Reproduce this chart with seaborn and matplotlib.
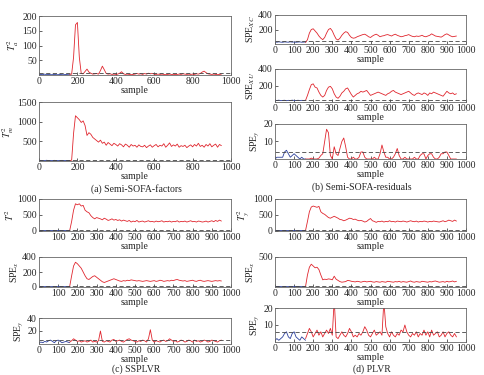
import matplotlib
matplotlib.use("Agg")
import matplotlib.pyplot as plt
import numpy as np
import pandas as pd
import seaborn as sns

# data: normal part (blue, samples 0..160) and fault part (red, from 160), read every 10 samples
a1_blue = [1, 2, 1, 3, 1, 2, 1, 1, 2, 1, 1, 2, 1, 1, 2, 1, 1]
a1_red = [2, 3, 60, 170, 178, 60, 5, 4, 12, 20, 10, 6, 3, 4, 5, 3, 15, 30, 18, 5,
          3, 4, 2, 3, 2, 3, 6, 11, 4, 2, 3, 2, 1, 2, 3, 5, 3, 4, 2, 5,
          3, 6, 4, 5, 3, 2, 3, 2, 3, 2, 1, 2, 3, 2, 1, 2, 2, 3, 2, 4,
          3, 2, 3, 2, 3, 2, 4, 3, 5, 10, 13, 8, 4, 3, 2, 3, 2, 1, 2, 3]
a2_blue = [10, 15, 8, 12, 18, 9, 14, 11, 16, 10, 13, 9, 15, 12, 10, 14, 12]
a2_red = [10, 20, 700, 1150, 1100, 1050, 980, 1020, 900, 650, 720, 680, 600, 560, 520, 480, 530, 450, 480, 400,
          470, 430, 390, 450, 420, 380, 440, 410, 360, 430, 400, 350, 420, 380, 400, 350, 410, 370, 360, 400,
          340, 380, 410, 350, 390, 420, 360, 400, 380, 440, 350, 400, 460, 370, 410, 380, 430, 350, 390, 370,
          400, 340, 380, 410, 360, 420, 380, 450, 370, 400, 350, 420, 380, 440, 360, 400, 430, 350, 420, 390]
b1_blue = [28, 25, 30, 26, 24, 29, 27, 25, 30, 26, 28, 24, 27, 29, 25, 26, 28]
b1_red = [20, 60, 150, 200, 210, 180, 150, 110, 80, 60, 90, 150, 200, 215, 180, 120, 70, 55, 80, 120,
          150, 170, 160, 120, 90, 80, 85, 100, 110, 120, 130, 135, 120, 100, 90, 110, 125, 135, 120, 100,
          110, 115, 125, 130, 120, 110, 125, 135, 120, 110, 100, 105, 115, 120, 130, 115, 105, 100, 110, 105,
          110, 120, 105, 100, 110, 120, 140, 125, 110, 105, 100, 95, 110, 130, 140, 125, 110, 100, 105, 110]
b2_blue = [20, 18, 22, 17, 19, 21, 16, 20, 18, 22, 19, 17, 21, 18, 20, 19, 20]
b2_red = [20, 80, 150, 210, 220, 180, 170, 120, 80, 60, 80, 140, 180, 190, 160, 100, 60, 45, 70, 110,
          130, 160, 170, 130, 90, 60, 80, 100, 110, 130, 120, 130, 140, 110, 80, 90, 100, 110, 120, 110,
          100, 90, 80, 100, 110, 130, 140, 120, 110, 100, 90, 100, 110, 120, 130, 110, 90, 80, 100, 110,
          100, 90, 110, 100, 80, 110, 100, 120, 110, 100, 90, 80, 70, 100, 130, 110, 100, 110, 90, 100]
b3_blue = [0, 1, 1, 1, 1, 4, 5, 3, 1, 2, 3, 2, 1, 0, 1, 0, 0]
b3_red = [0, 0, 0, 0.5, 0, 0, 0, 0.5, 2, 3, 10, 17, 15, 2, 0, 7, 3, 2, 6, 10,
          12, 7, 1, 0, 0, 1, 0, 0, 1, 4, 4, 1, 0, 0, 0, 0, 1, 0, 0, 3,
          8, 4, 1, 1, 0, 0, 1, 3, 6, 2, 0, 0, 1, 0, 0, 0, 0, 1, 0, 0,
          2, 3, 3, 0, 2, 3, 3, 1, 0, 0, 1, 3, 3, 4, 4, 2, 0, 0, 0, 0]
c1_blue = [12, 15, 10, 14, 18, 11, 13, 16, 12, 10, 15, 13, 11, 14, 12, 16, 13]
c1_red = [20, 300, 650, 850, 820, 850, 780, 800, 650, 600, 570, 480, 420, 380, 420, 400, 380, 350, 400, 370,
          330, 350, 380, 340, 360, 330, 350, 310, 340, 320, 300, 330, 280, 310, 290, 330, 280, 300, 310, 280,
          300, 320, 290, 300, 280, 310, 290, 300, 320, 280, 300, 290, 310, 280, 300, 290, 320, 280, 300, 290,
          310, 280, 300, 320, 290, 300, 280, 310, 300, 280, 290, 310, 280, 300, 320, 290, 330, 300, 340, 310]
c2_blue = [5, 6, 4, 5, 7, 5, 4, 6, 5, 4, 6, 5, 5, 4, 6, 5, 5]
c2_red = [10, 150, 280, 330, 310, 280, 250, 200, 150, 110, 100, 120, 140, 150, 130, 110, 90, 70, 60, 70,
          80, 90, 100, 110, 100, 90, 80, 75, 85, 80, 90, 85, 95, 90, 85, 80, 85, 80, 75, 80,
          85, 80, 75, 80, 85, 75, 80, 90, 85, 75, 80, 85, 80, 90, 85, 95, 100, 90, 85, 80,
          85, 75, 80, 85, 90, 80, 75, 85, 90, 80, 75, 80, 85, 80, 75, 80, 85, 80, 85, 80]
c3_blue = [2, 3, 2, 4, 3, 5, 6, 4, 2, 5, 6, 4, 2, 3, 4, 3, 2]
c3_red = [3, 5, 8, 6, 4, 5, 3, 4, 5, 3, 4, 6, 3, 4, 3, 5, 20, 4, 3, 5,
          4, 3, 6, 7, 4, 5, 6, 4, 3, 5, 7, 8, 6, 5, 4, 3, 5, 4, 6, 5,
          3, 8, 22, 6, 3, 5, 4, 3, 5, 6, 4, 5, 8, 6, 4, 5, 3, 4, 6, 5,
          3, 4, 6, 5, 3, 6, 4, 5, 3, 4, 6, 5, 3, 4, 6, 5, 4, 3, 5, 6]
d1_blue = [15, 12, 18, 14, 11, 16, 13, 17, 12, 15, 14, 11, 16, 13, 15, 12, 14]
d1_red = [20, 300, 600, 750, 780, 760, 740, 770, 600, 550, 520, 470, 420, 400, 430, 460, 430, 400, 360, 350,
          320, 340, 370, 400, 390, 360, 370, 340, 320, 330, 310, 280, 300, 350, 390, 320, 300, 270, 300, 290,
          310, 280, 300, 290, 320, 290, 300, 280, 310, 300, 290, 310, 300, 280, 300, 320, 300, 290, 310, 280,
          300, 290, 310, 300, 280, 300, 290, 310, 300, 290, 280, 300, 320, 290, 310, 340, 320, 300, 340, 310]
d2_blue = [8, 6, 9, 7, 5, 8, 6, 7, 9, 6, 8, 7, 5, 8, 6, 7, 8]
d2_red = [10, 200, 330, 380, 350, 320, 330, 290, 200, 120, 130, 125, 135, 130, 120, 180, 130, 110, 90, 80,
          85, 90, 110, 105, 95, 90, 85, 95, 90, 80, 90, 95, 85, 90, 95, 85, 80, 90, 85, 80,
          90, 85, 80, 95, 90, 85, 80, 90, 85, 95, 80, 90, 85, 80, 90, 100, 85, 80, 90, 85,
          80, 95, 90, 85, 80, 90, 85, 95, 100, 90, 80, 85, 90, 80, 95, 85, 90, 100, 85, 95]
d3_blue = [1, 2, 1, 2, 3, 5, 6, 3, 2, 5, 6, 3, 2, 1, 3, 2, 1]
d3_red = [2, 5, 8, 6, 3, 5, 7, 4, 6, 3, 5, 7, 5, 8, 4, 25, 3, 2, 4, 6,
          4, 3, 5, 8, 6, 3, 4, 3, 5, 4, 6, 9, 7, 4, 3, 5, 7, 4, 5, 6,
          4, 24, 9, 5, 3, 6, 4, 3, 5, 4, 7, 6, 10, 6, 4, 3, 5, 4, 6, 3,
          5, 4, 7, 4, 6, 3, 7, 4, 5, 6, 3, 4, 6, 3, 5, 6, 4, 3, 5, 3]

# control limits
limits = {"a1": 8, "a2": 25, "b1": 35, "b2": 30, "b3": 4,
          "c1": 20, "c2": 8, "c3": 6, "d1": 20, "d2": 10, "d3": 6}

ylabels = {"a1": "$T^2_a$", "a2": "$T^2_{m}$", "b1": "SPE$_{XC}$", "b2": "SPE$_{XU}$",
           "b3": "SPE$_y$", "c1": "$T^2$", "c2": "SPE$_x$", "c3": "SPE$_y$",
           "d1": "$T^2_y$", "d2": "SPE$_x$", "d3": "SPE$_y$"}

series = {"a1": (a1_blue, a1_red), "a2": (a2_blue, a2_red), "b1": (b1_blue, b1_red),
          "b2": (b2_blue, b2_red), "b3": (b3_blue, b3_red), "c1": (c1_blue, c1_red),
          "c2": (c2_blue, c2_red), "c3": (c3_blue, c3_red), "d1": (d1_blue, d1_red),
          "d2": (d2_blue, d2_red), "d3": (d3_blue, d3_red)}

# settings
sns.set_style("ticks")
plt.rcParams['font.family'] = ['Liberation Serif', 'DejaVu Serif']
plt.rcParams['mathtext.fontset'] = 'stix'
plt.rcParams['font.size'] = 7

fig = plt.figure(figsize=(4.84, 3.75), dpi=100)
W, H = 484.0, 375.0

# left, top, right, bottom in pixels
boxes = {"a1": (39, 16, 231, 75), "a2": (39, 102, 231, 161),
         "b1": (275, 15, 466, 44), "b2": (275, 69, 466, 102), "b3": (275, 124, 466, 159),
         "c1": (39, 199, 231, 231), "c2": (39, 257, 231, 287), "c3": (39, 318, 231, 344),
         "d1": (275, 199, 466, 231), "d2": (275, 257, 466, 287), "d3": (275, 308, 466, 342)}

ylims = {"a1": (0, 200, [50, 100, 150, 200]), "a2": (0, 1500, [500, 1000, 1500]),
         "b1": (0, 400, [200, 400]), "b2": (0, 400, [200, 400]), "b3": (0, 20, [10, 20]),
         "c1": (0, 1000, [0, 500, 1000]), "c2": (0, 400, [0, 200, 400]), "c3": (0, 40, [20, 40]),
         "d1": (0, 1000, [0, 500, 1000]), "d2": (0, 500, [500]), "d3": (0, 20, [10, 20])}

xticks_coarse = [0, 200, 400, 600, 800, 1000]
xticks_fine = list(range(0, 1001, 100))

red = "#e0262e"
blue = "#2b3f9c"

for key, (l, t, r, b) in boxes.items():
    ax = fig.add_axes([l / W, 1 - b / H, (r - l) / W, (b - t) / H])
    blue_vals, red_vals = series[key]
    df_b = pd.DataFrame({"sample": np.arange(0, 10 * len(blue_vals), 10), "value": blue_vals})
    df_r = pd.DataFrame({"sample": np.arange(160, 160 + 10 * len(red_vals), 10), "value": red_vals})
    sns.lineplot(data=df_b, x="sample", y="value", ax=ax, color=blue, lw=0.6)
    sns.lineplot(data=df_r, x="sample", y="value", ax=ax, color=red, lw=0.6)
    ax.axhline(limits[key], color="#444444", lw=0.6, ls=(0, (5, 3)))
    y0, y1, yt = ylims[key]
    ax.set_ylim(y0, y1)
    ax.set_yticks(yt)
    ax.set_xlim(0, 1000)
    if key in ("a1", "a2"):
        ax.set_xticks(xticks_coarse)
    elif key in ("c1", "c2", "d1"):
        ax.set_xticks(xticks_fine[1:])
    else:
        ax.set_xticks(xticks_fine)
    ax.set_xlabel("sample", labelpad=0)
    ax.set_ylabel(ylabels[key], labelpad=1)
    ax.tick_params(direction="in", length=2, width=0.5, pad=1.5, labelsize=7)
    for s in ax.spines.values():
        s.set_color("#666666")
        s.set_linewidth(0.6)

fig.text(136 / W, 1 - 189 / H, "(a) Semi-SOFA-factors", ha="center", va="center", fontsize=7)
fig.text(362 / W, 1 - 187 / H, "(b) Semi-SOFA-residuals", ha="center", va="center", fontsize=7)
fig.text(136 / W, 1 - 369 / H, "(c) SSPLVR", ha="center", va="center", fontsize=7)
fig.text(372 / W, 1 - 369 / H, "(d) PLVR", ha="center", va="center", fontsize=7)

fig.savefig("out.png", dpi=100)
plt.close()
